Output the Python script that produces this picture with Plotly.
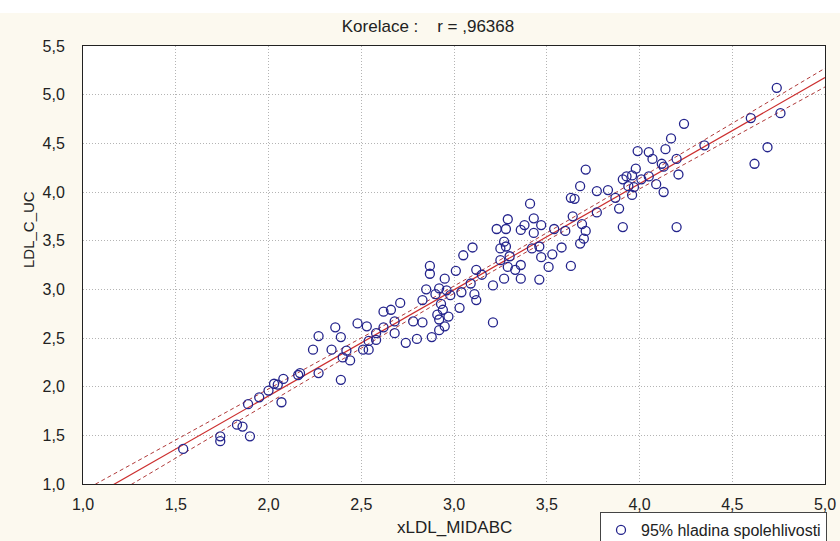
import numpy as np
import plotly.graph_objects as go

# ---- data ----
x_ldl_midabc = [1.54, 1.74, 1.74, 1.83, 1.86, 1.90, 1.89, 1.95, 2.00, 2.03,
                2.05, 2.08, 2.07, 2.16, 2.17, 2.27, 2.24, 2.27, 2.34, 2.36,
                2.39, 2.42, 2.40, 2.44, 2.39, 2.48, 2.53, 2.51, 2.54, 2.54,
                2.58, 2.58, 2.62, 2.62, 2.66, 2.71, 2.68, 2.68, 2.74, 2.78,
                2.80, 2.83, 2.83, 2.87, 2.87, 2.85, 2.88, 2.90, 2.91, 2.92,
                2.92, 2.93, 2.94, 2.95, 2.95, 2.92, 2.96, 2.97, 2.98, 3.01,
                3.03, 3.04, 3.05, 3.09, 3.10, 3.11, 3.12, 3.12, 3.15, 3.21,
                3.21, 3.23, 3.28, 3.29, 3.25, 3.27, 3.28, 3.25, 3.29, 3.27,
                3.30, 3.33, 3.36, 3.36, 3.36, 3.38, 3.41, 3.43, 3.43, 3.42,
                3.46, 3.47, 3.47, 3.51, 3.46, 3.53, 3.54, 3.58, 3.60, 3.63,
                3.63, 3.65, 3.64, 3.68, 3.69, 3.71, 3.70, 3.68, 3.71, 3.77,
                3.77, 3.83, 3.87, 3.89, 3.91, 3.91, 3.93, 3.96, 3.98, 3.94,
                3.97, 3.96, 3.99, 4.01, 4.05, 4.05, 4.07, 4.09, 4.12, 4.13,
                4.13, 4.14, 4.17, 4.20, 4.21, 4.20, 4.24, 4.35, 4.60, 4.62,
                4.69, 4.74, 4.76]
ldl_c_uc = [1.36, 1.49, 1.44, 1.61, 1.59, 1.49, 1.82, 1.89, 1.96, 2.03,
            2.02, 2.08, 1.84, 2.12, 2.14, 2.14, 2.38, 2.52, 2.38, 2.61,
            2.51, 2.37, 2.30, 2.27, 2.07, 2.65, 2.62, 2.38, 2.38, 2.47,
            2.48, 2.55, 2.61, 2.77, 2.79, 2.86, 2.67, 2.55, 2.45, 2.67,
            2.49, 2.89, 2.66, 3.24, 3.16, 3.00, 2.51, 2.95, 2.74, 2.69,
            3.01, 2.85, 2.79, 3.11, 2.62, 2.58, 2.99, 2.72, 2.94, 3.19,
            2.81, 2.97, 3.35, 3.06, 3.43, 2.95, 2.89, 3.20, 3.15, 3.04,
            2.66, 3.62, 3.62, 3.72, 3.42, 3.49, 3.44, 3.30, 3.23, 3.11,
            3.34, 3.20, 3.25, 3.11, 3.61, 3.66, 3.88, 3.73, 3.58, 3.42,
            3.44, 3.66, 3.33, 3.23, 3.10, 3.36, 3.62, 3.43, 3.60, 3.24,
            3.94, 3.93, 3.75, 4.06, 3.67, 3.60, 3.52, 3.47, 4.23, 4.01,
            3.79, 4.02, 3.94, 3.83, 3.64, 4.13, 4.16, 4.17, 4.24, 4.06,
            4.05, 3.97, 4.42, 4.13, 4.41, 4.16, 4.34, 4.08, 4.29, 4.26,
            4.00, 4.44, 4.55, 4.34, 4.18, 3.64, 4.70, 4.48, 4.76, 4.29,
            4.46, 5.07, 4.81]

title_text = "Korelace :\u00a0\u00a0\u00a0 r = ,96368"
x_title = "xLDL_MIDABC"
y_title = "LDL_C_UC"
legend_name = "95% hladina spolehlivosti"
t_crit = 1.977  # Student t, 95 %, n-2 df

# ---- regression and 95 % confidence band of the mean ----
xa = np.array(x_ldl_midabc)
ya = np.array(ldl_c_uc)
n = len(xa)
slope, intercept = np.polyfit(xa, ya, 1)
resid = ya - (intercept + slope * xa)
s = np.sqrt(np.sum(resid ** 2) / (n - 2))
sxx = np.sum((xa - xa.mean()) ** 2)
xg = np.linspace(1.0, 5.0, 161)
yg = intercept + slope * xg
half = t_crit * s * np.sqrt(1.0 / n + (xg - xa.mean()) ** 2 / sxx)

fig = go.Figure()
fig.add_trace(go.Scatter(x=xg, y=yg + half, mode="lines",
                         line=dict(color="#b03a3a", width=1, dash="4px,3px"),
                         showlegend=False, hoverinfo="skip"))
fig.add_trace(go.Scatter(x=xg, y=yg - half, mode="lines",
                         line=dict(color="#b03a3a", width=1, dash="4px,3px"),
                         showlegend=False, hoverinfo="skip"))
fig.add_trace(go.Scatter(x=xg, y=yg, mode="lines",
                         line=dict(color="#cc2f2f", width=1.2),
                         showlegend=False, hoverinfo="skip"))
fig.add_trace(go.Scatter(x=x_ldl_midabc, y=ldl_c_uc, mode="markers",
                         name=legend_name,
                         marker=dict(symbol="circle-open", size=9,
                                     color="#24248c", line=dict(width=1.3, color="#24248c")),
                         cliponaxis=False))

font_family = "Liberation Sans, Arial, sans-serif"
axis_common = dict(
    showline=True, mirror=True, linecolor="#222222", linewidth=1,
    showgrid=True, gridcolor="#b4b4b4", griddash="1px,2px", gridwidth=1,
    zeroline=False, ticks="", tickformat=".1f", automargin=False,
    tickfont=dict(family=font_family, size=16, color="#222222"),
)
fig.update_xaxes(range=[1.0, 5.0], dtick=0.5, tick0=1.0, ticklabelstandoff=6, **axis_common)
fig.update_yaxes(range=[1.0, 5.5], dtick=0.5, tick0=1.0, ticklabelstandoff=14, **axis_common)

fig.update_layout(
    width=840, height=541,
    margin=dict(l=83, r=15, t=46, b=57, autoexpand=False),
    paper_bgcolor="#fcf9ef", plot_bgcolor="#ffffff",
    separators=", ",
    font=dict(family=font_family, size=13, color="#222222"),
    title=dict(text=title_text, x=428 / 840, xanchor="center",
               y=1 - 26 / 541, yanchor="middle",
               font=dict(family=font_family, size=17, color="#222222")),
    showlegend=True,
    legend=dict(x=(600 - 83) / 742, y=-(512 - 484) / 438, xanchor="left", yanchor="top",
                bgcolor="#ffffff", bordercolor="#444444", borderwidth=1,
                font=dict(family=font_family, size=16, color="#222222"),
                itemwidth=30, tracegroupgap=0),
    shapes=[dict(type="rect", xref="paper", yref="paper", layer="below",
                 x0=-83 / 742, x1=1 + 15 / 742, y0=1 + 33 / 438, y1=1 + 46 / 438,
                 fillcolor="#ffffff", line=dict(width=0))],
    annotations=[
        dict(text=x_title, xref="paper", yref="paper", x=(454 - 83) / 742, y=-(527 - 484) / 438,
             xanchor="center", yanchor="middle", showarrow=False,
             font=dict(family=font_family, size=17, color="#222222")),
        dict(text=y_title, xref="paper", yref="paper", x=-(83 - 28) / 742, y=(484 - 230) / 438,
             xanchor="center", yanchor="middle", textangle=-90, showarrow=False,
             font=dict(family=font_family, size=15, color="#222222")),
    ],
)

fig.write_html("out.html", config={"displayModeBar": False},
               post_script="document.body.style.margin='0px';document.body.style.overflow='hidden';")
